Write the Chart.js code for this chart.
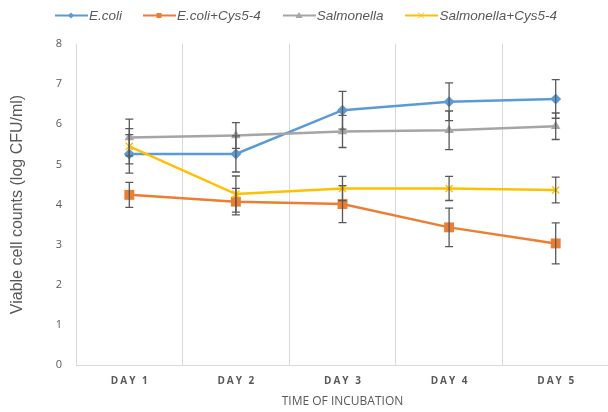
<!DOCTYPE html>
<html>
<head>
<meta charset="utf-8">
<script src="https://cdn.jsdelivr.net/npm/chart.js@4"></script>
<style>
  body { margin: 0; background: #fff; }
  #wrap { position: relative; width: 608px; height: 412px; overflow: hidden; }
  #legend { position: absolute; top: 8px; left: 55px; display: flex; align-items: center;
            font: italic 13.5px "Liberation Sans", Arial, sans-serif; color: #595959; white-space: nowrap; }
  #legend .item { display: flex; align-items: center; }
  #legend svg { margin-right: 1px; }
</style>
</head>
<body>
<div id="wrap">
  <!-- a bit wider than the window: the last column runs off the right edge like the original -->
  <canvas id="c" width="616" height="412"></canvas>
  <div id="legend"></div>
</div>
<script>
const categories = ['DAY 1', 'DAY 2', 'DAY 3', 'DAY 4', 'DAY 5'];
const ecoli = [5.26, 5.26, 6.35, 6.56, 6.63];
const ecoliErr = [0.48, 0.45, 0.47, 0.47, 0.48];
const ecoliCys = [4.24, 4.07, 4.01, 3.43, 3.03];
const ecoliCysErr = [0.31, 0.33, 0.46, 0.48, 0.51];
const salmonella = [5.67, 5.72, 5.82, 5.85, 5.95];
const salmonellaErr = [0.46, 0.32, 0.40, 0.48, 0.33];
const salmonellaCys = [5.45, 4.26, 4.40, 4.40, 4.36];
const salmonellaCysErr = [0.44, 0.45, 0.30, 0.30, 0.32];

const series = [
    { label: 'E.coli', data: ecoli, err: ecoliErr, color: '#5b9bd5', style: 'rectRot', r: 5.5, order: 4, gap: 21 },
    { label: 'E.coli+Cys5-4', data: ecoliCys, err: ecoliCysErr, color: '#ed7d31', style: 'rect', r: 7, order: 3, gap: 22 },
    { label: 'Salmonella', data: salmonella, err: salmonellaErr, color: '#a5a5a5', style: 'triangle', r: 5.5, order: 2, gap: 22 },
    { label: 'Salmonella+Cys5-4', data: salmonellaCys, err: salmonellaCysErr, color: '#ffc000', style: 'crossRot', r: 5, order: 1, gap: 0 }
];

// legend in html, small svg for line + marker
const markers = {
    rectRot: c => `<polygon points="16,4.5 19,7.5 16,10.5 13,7.5" fill="${c}"/>`,
    rect: c => `<rect x="13.5" y="5" width="5" height="5" fill="${c}"/>`,
    triangle: c => `<polygon points="16,4 19.5,10 12.5,10" fill="${c}"/>`,
    crossRot: c => `<path d="M13,4.5 L19,10.5 M19,4.5 L13,10.5" stroke="${c}" stroke-width="1"/>`
};
const legend = document.getElementById('legend');
series.forEach(s => {
    const div = document.createElement('div');
    div.className = 'item';
    div.style.marginRight = s.gap + 'px';
    div.innerHTML = `<svg width="33" height="15"><line x1="0" y1="7.5" x2="33" y2="7.5" stroke="${s.color}" stroke-width="2"/>${markers[s.style](s.color)}</svg><span>${s.label}</span>`;
    legend.appendChild(div);
});

const errorBars = {
    id: 'errorBars',
    afterDatasetsDraw(chart) {
        const ctx = chart.ctx;
        const x = chart.scales.x, y = chart.scales.y;
        ctx.save();
        ctx.strokeStyle = '#595959';
        ctx.lineWidth = 1.3;
        series.forEach(s => {
            s.data.forEach((v, i) => {
                const px = x.getPixelForValue(i);
                const top = y.getPixelForValue(v + s.err[i]);
                const bot = y.getPixelForValue(v - s.err[i]);
                ctx.beginPath();
                ctx.moveTo(px, top); ctx.lineTo(px, bot);
                ctx.moveTo(px - 4, top); ctx.lineTo(px + 4, top);
                ctx.moveTo(px - 4, bot); ctx.lineTo(px + 4, bot);
                ctx.stroke();
            });
        });
        ctx.restore();
    },
    afterDraw(chart) {
        // day labels are letter spaced, canvas does that, chart.js does not
        const ctx = chart.ctx;
        const x = chart.scales.x;
        ctx.save();
        ctx.letterSpacing = '2px';
        ctx.font = 'bold 10px "Open Sans", sans-serif';
        ctx.fillStyle = '#595959';
        ctx.textAlign = 'center';
        ctx.textBaseline = 'middle';
        categories.forEach((c, i) => ctx.fillText(c, x.getPixelForValue(i) + 1, 381));
        ctx.restore();
    }
};

new Chart(document.getElementById('c'), {
    type: 'line',
    data: {
        labels: categories,
        datasets: series.map(s => ({
            label: s.label,
            data: s.data,
            order: s.order,
            borderColor: s.color,
            backgroundColor: s.color,
            borderWidth: 2.5,
            pointStyle: s.style,
            pointRadius: s.r,
            pointBorderWidth: s.style === 'crossRot' ? 1.5 : 0,
            pointBorderColor: s.color,
            tension: 0
        }))
    },
    options: {
        responsive: false,
        animation: false,
        layout: { padding: { top: 44, right: 0, left: 0, bottom: 0 } },
        plugins: { legend: { display: false }, tooltip: { enabled: false } },
        scales: {
            x: {
                offset: true,
                grid: { offset: true, color: '#d9d9d9', drawTicks: false },
                border: { color: '#d9d9d9' },
                ticks: { display: false },
                title: { display: true, text: 'TIME OF INCUBATION', color: '#595959',
                         font: { family: 'Open Sans', size: 12 }, padding: { top: 0, bottom: 3 } },
                afterFit(scale) { scale.height = 47; }
            },
            y: {
                min: 0,
                max: 8,
                grid: { display: false, drawTicks: false },
                border: { display: true, color: '#d9d9d9' },
                ticks: { stepSize: 1, color: '#595959', padding: 14, font: { family: 'Open Sans', size: 11 } },
                title: { display: true, text: 'Viable cell counts (log CFU/ml)', color: '#595959',
                         font: { family: 'Liberation Sans', size: 16 }, padding: { top: 8, bottom: 0 } },
                afterFit(scale) { scale.width = 76; }
            }
        }
    },
    plugins: [errorBars]
});
</script>
</body>
</html>
